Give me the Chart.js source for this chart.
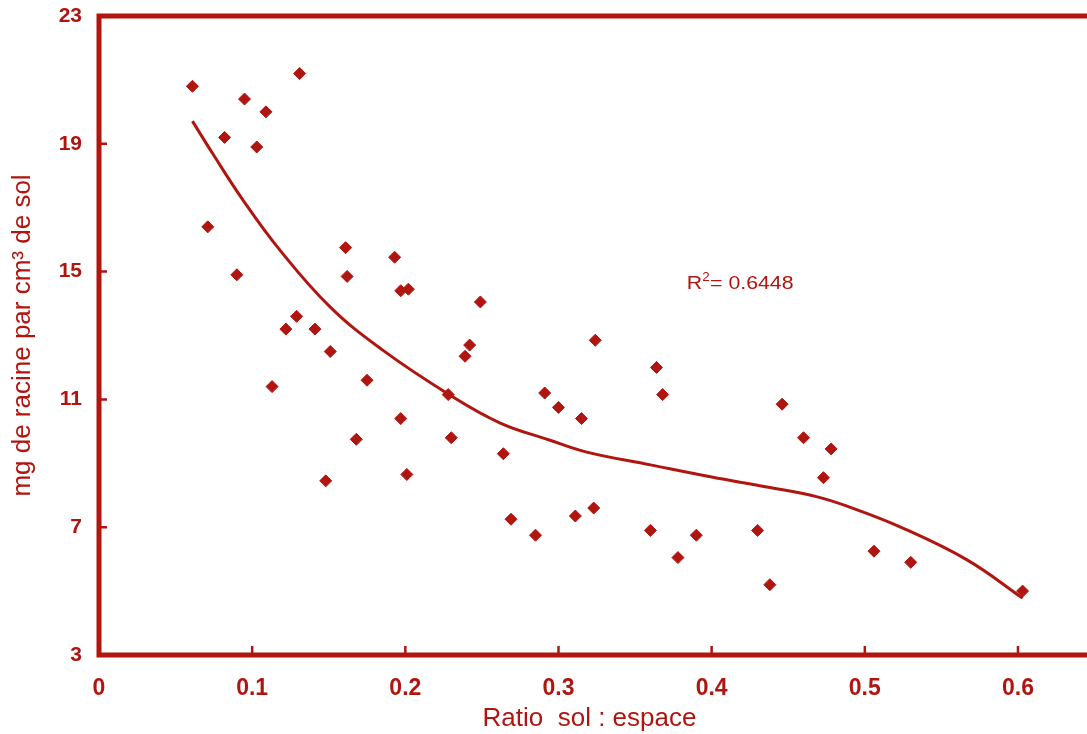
<!DOCTYPE html>
<html lang="fr">
<head>
    <meta charset="UTF-8">
    <title>Racines vs ratio sol : espace</title>
    <script src="https://cdn.jsdelivr.net/npm/chart.js"></script>
    <style>
        * { margin: 0; padding: 0; box-sizing: border-box; }
        body { background: white; width: 1087px; height: 734px; overflow: hidden; }
        #chart { display: block; }
    </style>
</head>
<body>
    <canvas id="chart" width="1087" height="734"></canvas>

    <script>
        // ratio sol : espace (x) et mg de racine par cm3 de sol (y)
        const ratio = [0.061, 0.071, 0.082, 0.090, 0.095, 0.103, 0.109, 0.113, 0.122, 0.129,
                       0.131, 0.141, 0.148, 0.151, 0.161, 0.162, 0.168, 0.175, 0.193, 0.197,
                       0.202, 0.197, 0.201, 0.228, 0.230, 0.239, 0.242, 0.249, 0.264, 0.269,
                       0.285, 0.291, 0.300, 0.311, 0.315, 0.323, 0.324, 0.360, 0.364, 0.368,
                       0.378, 0.390, 0.430, 0.438, 0.446, 0.460, 0.473, 0.478, 0.506, 0.530,
                       0.603];
        const racine = [20.8, 16.4, 19.2, 14.9, 20.4, 18.9, 20.0, 11.4, 13.2, 13.6,
                        21.2, 13.2, 8.45, 12.5, 15.75, 14.85, 9.75, 11.6, 15.45, 14.4,
                        14.45, 10.4, 8.65, 11.15, 9.8, 12.35, 12.7, 14.05, 9.3, 7.25,
                        6.75, 11.2, 10.75, 7.35, 10.4, 7.6, 12.85, 6.9, 12.0, 11.15,
                        6.05, 6.75, 6.9, 5.2, 10.85, 9.8, 8.55, 9.45, 6.25, 5.9,
                        5.0];

        // courbe de tendance
        const courbeX = [0.061, 0.074, 0.094, 0.118, 0.151, 0.185, 0.229, 0.262, 0.294, 0.3185,
                         0.36, 0.40, 0.436, 0.469, 0.49, 0.523, 0.567, 0.603];
        const courbeY = [19.71, 18.71, 17.24, 15.68, 13.89, 12.55, 11.14, 10.26, 9.73, 9.35,
                         8.95, 8.57, 8.26, 7.95, 7.63, 7.01, 5.97, 4.78];

        const xTicks = [0, 0.1, 0.2, 0.3, 0.4, 0.5, 0.6];
        const yTicks = [3, 7, 11, 15, 19, 23];
        const r2Label = "0.6448";

        const rouge = "#b0150f";
        const police = "'Liberation Sans', Arial, sans-serif";

        // cadre épais + petites graduations vers l'intérieur + texte R²
        const cadre = {
            id: "cadre",
            afterDatasetsDraw(chart) {
                const ctx = chart.ctx;
                const a = chart.chartArea;
                const xs = chart.scales.x, ys = chart.scales.y;
                const droite = chart.width;
                ctx.save();
                ctx.strokeStyle = rouge;
                ctx.lineWidth = 5;
                ctx.beginPath();
                ctx.moveTo(droite, a.top);
                ctx.lineTo(a.left, a.top);
                ctx.lineTo(a.left, a.bottom);
                ctx.lineTo(droite, a.bottom);
                ctx.stroke();

                ctx.lineWidth = 2.5;
                ctx.beginPath();
                xTicks.forEach(v => {
                    const px = xs.getPixelForValue(v);
                    ctx.moveTo(px, a.bottom);
                    ctx.lineTo(px, a.bottom - 9);
                });
                yTicks.forEach(v => {
                    const py = ys.getPixelForValue(v);
                    ctx.moveTo(a.left, py);
                    ctx.lineTo(a.left + 8, py);
                });
                ctx.stroke();

                // R² = ...
                ctx.fillStyle = rouge;
                ctx.textBaseline = "alphabetic";
                const bx = xs.getPixelForValue(0.3838);
                const by = ys.getPixelForValue(14.455);
                ctx.translate(bx, by);
                ctx.scale(1.12, 1);
                ctx.font = "19px " + police;
                ctx.fillText("R", 0, 0);
                const w = ctx.measureText("R").width;
                ctx.font = "12px " + police;
                ctx.fillText("2", w, -8);
                ctx.font = "19px " + police;
                ctx.fillText("= " + r2Label, w + 7, 0);
                ctx.restore();
            }
        };

        new Chart(document.getElementById("chart"), {
            type: "scatter",
            data: {
                datasets: [
                    {
                        label: "mesures",
                        data: ratio.map((x, i) => ({ x: x, y: racine[i] })),
                        pointStyle: "rectRot",
                        pointRadius: 6,
                        pointBackgroundColor: rouge,
                        pointBorderColor: rouge,
                        pointBorderWidth: 1,
                        showLine: false
                    },
                    {
                        label: "tendance",
                        data: courbeX.map((x, i) => ({ x: x, y: courbeY[i] })),
                        showLine: true,
                        borderColor: rouge,
                        borderWidth: 3,
                        pointRadius: 0,
                        tension: 0.4,
                        fill: false
                    }
                ]
            },
            options: {
                responsive: false,
                animation: false,
                events: [],
                layout: { padding: { top: 16, right: 0, left: 0, bottom: 0 } },
                plugins: {
                    legend: { display: false },
                    tooltip: { enabled: false }
                },
                scales: {
                    x: {
                        type: "linear",
                        min: 0,
                        max: 0.6405,
                        grid: { display: false, drawTicks: false },
                        border: { display: false },
                        afterBuildTicks: s => { s.ticks = xTicks.map(v => ({ value: v })); },
                        afterFit: s => {
                            s.height = 79;
                            s.paddingLeft = 0;
                            s.paddingRight = 0;
                        },
                        ticks: {
                            color: rouge,
                            padding: 20,
                            font: { family: police, size: 23, weight: "bold" },
                            callback: v => String(v)
                        },
                        title: {
                            display: true,
                            text: "Ratio  sol : espace",
                            color: rouge,
                            font: { family: police, size: 26 },
                            padding: { top: 0, bottom: 0 }
                        }
                    },
                    y: {
                        type: "linear",
                        min: 3,
                        max: 23,
                        grid: { display: false, drawTicks: false },
                        border: { display: false },
                        afterBuildTicks: s => { s.ticks = yTicks.map(v => ({ value: v })); },
                        afterFit: s => {
                            s.width = 99;
                            s.paddingTop = 0;
                            s.paddingBottom = 0;
                        },
                        ticks: {
                            color: rouge,
                            padding: 17,
                            font: { family: police, size: 21, weight: "bold" }
                        },
                        title: {
                            display: true,
                            text: "mg de racine par cm³ de sol",
                            color: rouge,
                            font: { family: police, size: 26 },
                            padding: { top: 7, bottom: 0 }
                        }
                    }
                }
            },
            plugins: [cadre]
        });
    </script>
</body>
</html>
